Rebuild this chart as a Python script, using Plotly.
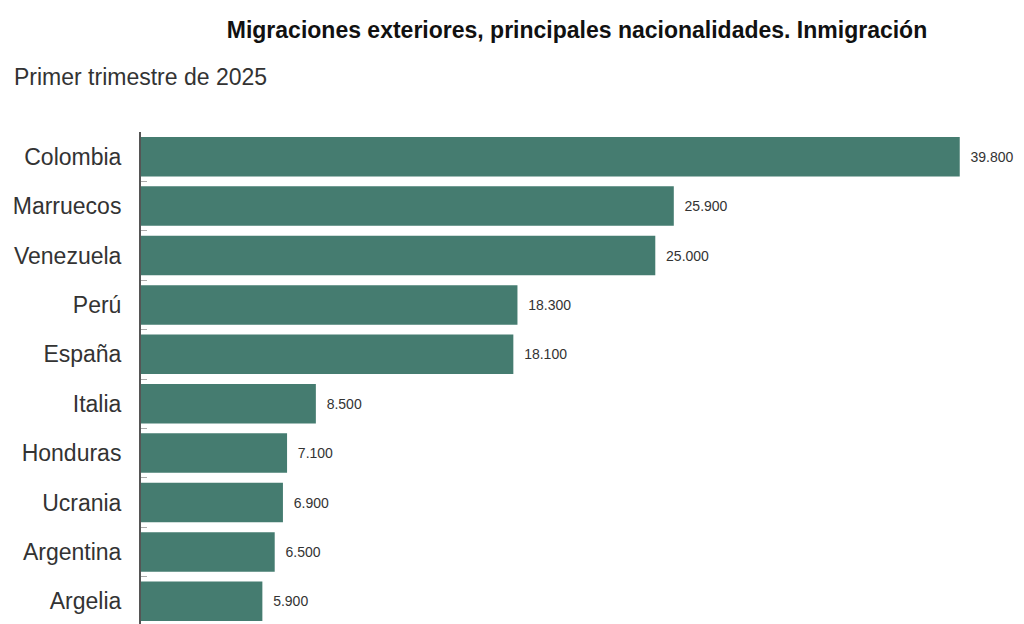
import plotly.graph_objects as go

paises = ["Colombia", "Marruecos", "Venezuela", "Perú", "España", "Italia",
          "Honduras", "Ucrania", "Argentina", "Argelia"]
inmigrantes = [39800, 25900, 25000, 18300, 18100, 8500, 7100, 6900, 6500, 5900]

titulo = "<b>Migraciones exteriores, principales nacionalidades. Inmigración</b>"
subtitulo = "Primer trimestre de 2025"

FONT = "Liberation Sans"
W, H = 1008, 624
ML, MR, MT, MB = 133, 11, 124, 6
PW, PH = W - ML - MR, H - MT - MB

fig = go.Figure(go.Bar(
    x=inmigrantes, y=paises, orientation="h",
    marker=dict(color="#457c70", line=dict(width=0)),
    texttemplate="\u00a0\u00a0%{x:,}", textposition="outside",
    textfont=dict(family=FONT, size=14, color="#333333"),
    cliponaxis=False,
))

fig.update_layout(
    width=W, height=H,
    margin=dict(l=ML, r=MR, t=MT, b=MB, autoexpand=False),
    paper_bgcolor="white", plot_bgcolor="white",
    separators=",.",
    bargap=0.2,
    showlegend=False,
    font=dict(family=FONT, color="#333333"),
    title=dict(text=titulo, x=(569 - ML) / PW, xref="paper", xanchor="center",
               y=1 - 22 / H, yref="container", yanchor="middle",
               font=dict(family=FONT, size=23, color="#111111")),
    xaxis=dict(range=[0, 42000], visible=False, fixedrange=True),
    yaxis=dict(autorange="reversed", showline=True, linecolor="#555555", linewidth=2,
               ticks="inside", tickson="boundaries", ticklen=6, tickcolor="#aaaaaa",
               tickwidth=1, showgrid=False, ticklabelstandoff=13,
               tickfont=dict(family=FONT, size=23, color="#333333")),
    annotations=[dict(text=subtitulo, xref="paper", yref="paper",
                      x=(4 - ML) / PW, y=(H - MB - 69) / PH,
                      xanchor="left", yanchor="middle", showarrow=False,
                      font=dict(family=FONT, size=23, color="#333333"))],
)

fig.write_html("out.html")
